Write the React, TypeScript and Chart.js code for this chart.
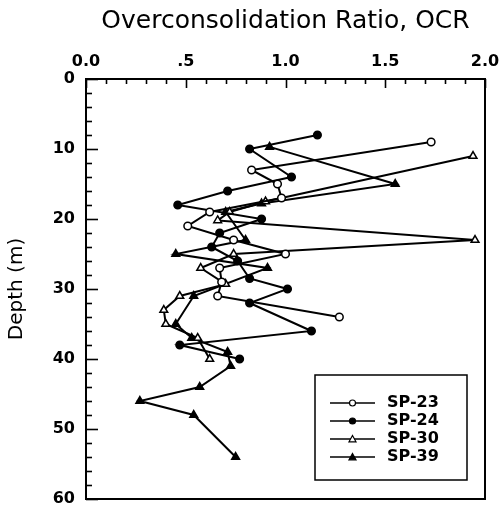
import React, { useEffect, useRef } from 'react';
import { Chart, registerables } from 'chart.js';

Chart.register(...registerables);

// ---- data (depth in m, OCR) ----
const sp23Depth = [9, 13, 15, 17, 19, 21, 23, 25, 27, 29, 31, 34];
const sp23Ocr = [1.73, 0.83, 0.96, 0.98, 0.62, 0.51, 0.74, 1.0, 0.67, 0.68, 0.66, 1.27];

const sp24Depth = [8, 10, 14, 16, 18, 20, 22, 24, 26, 28.5, 30, 32, 36, 38, 40];
const sp24Ocr = [1.16, 0.82, 1.03, 0.71, 0.46, 0.88, 0.67, 0.63, 0.76, 0.82, 1.01, 0.82, 1.13, 0.47, 0.77];

const sp30Depth = [11, 17.5, 19, 20.2, 23, 25, 27, 29.3, 31, 33, 35, 37, 40];
const sp30Ocr = [1.94, 0.9, 0.72, 0.66, 1.95, 0.74, 0.575, 0.7, 0.47, 0.39, 0.4, 0.56, 0.62];

const sp39Depth = [9.7, 15, 17.8, 19, 23, 25, 27, 31, 35, 37, 39, 41, 44, 46, 48, 54];
const sp39Ocr = [0.92, 1.55, 0.88, 0.7, 0.8, 0.45, 0.91, 0.54, 0.45, 0.53, 0.71, 0.725, 0.57, 0.27, 0.54, 0.75];

const seriesLabels = ['SP-23', 'SP-24', 'SP-30', 'SP-39'];

const xTickValues = [0, 0.5, 1, 1.5, 2];
const xTickLabels = ['0.0', '.5', '1.0', '1.5', '2.0'];
const yTickValues = [0, 10, 20, 30, 40, 50, 60];

const titleText = 'Overconsolidation Ratio, OCR';
const yTitleText = 'Depth (m)';

const FONT = "'DejaVu Sans', 'Liberation Sans', sans-serif";

function toPoints(xs: number[], ys: number[]) {
  return xs.map((x, i) => ({ x, y: ys[i] }));
}

const framePlugin = {
  id: 'framePlugin',
  beforeDatasetsDraw(chart: any) {
    const { ctx, chartArea, scales } = chart;
    const { left, right, top, bottom } = chartArea;
    ctx.save();
    // title centred over the plot area
    ctx.fillStyle = '#000';
    ctx.font = `normal 25px ${FONT}`;
    ctx.textAlign = 'center';
    ctx.textBaseline = 'middle';
    ctx.fillText(titleText, (left + right) / 2, 21);

    ctx.strokeStyle = '#000';
    ctx.lineWidth = 2;
    ctx.strokeRect(left, top, right - left, bottom - top);
    ctx.lineWidth = 1.6;
    // top axis ticks (inward)
    for (let i = 0; i <= 20; i++) {
      const v = i / 10;
      const px = Math.round(scales.x.getPixelForValue(v)) + 0.5;
      const len = i % 5 === 0 ? 9 : 5;
      ctx.beginPath();
      ctx.moveTo(px, top);
      ctx.lineTo(px, top + len);
      ctx.stroke();
    }
    // left axis ticks (inward)
    for (let d = 0; d <= 60; d += 2) {
      const py = Math.round(scales.y.getPixelForValue(d)) + 0.5;
      const len = d % 10 === 0 ? 12 : 6;
      ctx.beginPath();
      ctx.moveTo(left, py);
      ctx.lineTo(left + len, py);
      ctx.stroke();
    }
    ctx.restore();
  },
  afterDatasetsDraw(chart: any) {
    const { ctx, chartArea } = chart;
    const bx = chartArea.right - 170;
    const by = chartArea.bottom - 124;
    const bw = 152;
    const bh = 105;
    ctx.save();
    ctx.fillStyle = '#fff';
    ctx.fillRect(bx, by, bw, bh);
    ctx.strokeStyle = '#000';
    ctx.lineWidth = 1.5;
    ctx.strokeRect(bx, by, bw, bh);
    chart.data.datasets.forEach((ds: any, i: number) => {
      const cy = by + 28 + i * 18;
      const x0 = bx + 15;
      const x1 = bx + 60;
      ctx.strokeStyle = '#000';
      ctx.lineWidth = 1.5;
      ctx.beginPath();
      ctx.moveTo(x0, cy);
      ctx.lineTo(x1, cy);
      ctx.stroke();
      const cx = (x0 + x1) / 2;
      ctx.fillStyle = ds.pointBackgroundColor;
      ctx.lineWidth = 1.2;
      ctx.beginPath();
      if (ds.pointStyle === 'triangle') {
        const r = 3.5;
        ctx.moveTo(cx, cy - r);
        ctx.lineTo(cx + r, cy + r * 0.8);
        ctx.lineTo(cx - r, cy + r * 0.8);
        ctx.closePath();
      } else {
        ctx.arc(cx, cy, 3, 0, Math.PI * 2);
      }
      ctx.fill();
      ctx.stroke();
      ctx.fillStyle = '#000';
      ctx.font = `bold 16px ${FONT}`;
      ctx.textBaseline = 'middle';
      ctx.textAlign = 'left';
      ctx.fillText(ds.label, bx + 72, cy);
    });
    ctx.restore();
  },
};

function makeDataset(label: string, xs: number[], ys: number[], style: string, filled: boolean) {
  const tri = style === 'triangle';
  return {
    label,
    data: toPoints(xs, ys),
    showLine: true,
    borderColor: '#000',
    borderWidth: 2,
    pointStyle: style,
    pointRadius: tri ? 4.5 : 3.8,
    pointBorderWidth: 1.5,
    pointBorderColor: '#000',
    pointBackgroundColor: filled ? '#000' : '#fff',
    backgroundColor: filled ? '#000' : '#fff',
    tension: 0,
  };
}

export default function App() {
  const canvasRef = useRef<HTMLCanvasElement | null>(null);

  useEffect(() => {
    if (!canvasRef.current) return;
    const chart = new Chart(canvasRef.current, {
      type: 'scatter',
      data: {
        datasets: [
          makeDataset(seriesLabels[0], sp23Ocr, sp23Depth, 'circle', false),
          makeDataset(seriesLabels[1], sp24Ocr, sp24Depth, 'circle', true),
          makeDataset(seriesLabels[2], sp30Ocr, sp30Depth, 'triangle', false),
          makeDataset(seriesLabels[3], sp39Ocr, sp39Depth, 'triangle', true),
        ],
      },
      options: {
        responsive: false,
        animation: false,
        layout: { padding: { left: 0, right: 16, top: 35, bottom: 10 } },
        plugins: {
          legend: { display: false },
          tooltip: { enabled: false },
          title: { display: false },
        },
        scales: {
          x: {
            type: 'linear',
            position: 'top',
            min: 0,
            max: 2,
            afterBuildTicks: (scale: any) => {
              scale.ticks = xTickValues.map((v) => ({ value: v }));
            },
            afterFit: (scale: any) => {
              scale.height = 44;
              scale.paddingLeft = 0;
              scale.paddingRight = 0;
            },
            grid: { display: false, drawTicks: false },
            border: { display: false },
            ticks: {
              color: '#000',
              padding: 8,
              maxRotation: 0,
              font: { family: FONT, size: 16, weight: 'bold' },
              callback: (_v: any, i: number) => xTickLabels[i],
            },
          },
          y: {
            type: 'linear',
            position: 'left',
            reverse: true,
            min: 0,
            max: 60,
            afterBuildTicks: (scale: any) => {
              scale.ticks = yTickValues.map((v) => ({ value: v }));
            },
            afterFit: (scale: any) => {
              scale.width = 86;
              scale.paddingTop = 0;
              scale.paddingBottom = 0;
            },
            grid: { display: false, drawTicks: false },
            border: { display: false },
            title: {
              display: true,
              text: yTitleText,
              color: '#000',
              font: { family: FONT, size: 20, weight: 'normal', lineHeight: 1.2 },
              padding: { top: 5, bottom: 0 },
            },
            ticks: {
              color: '#000',
              padding: 11,
              font: { family: FONT, size: 16, weight: 'bold' },
              callback: (v: any) => String(v),
            },
          },
        },
      },
      plugins: [framePlugin],
    });
    return () => chart.destroy();
  }, []);

  return (
    <div style={{ position: 'absolute', left: 0, top: 0, width: 501, height: 509, background: '#fff' }}>
      <canvas ref={canvasRef} width={501} height={509} style={{ display: 'block' }} />
    </div>
  );
}
